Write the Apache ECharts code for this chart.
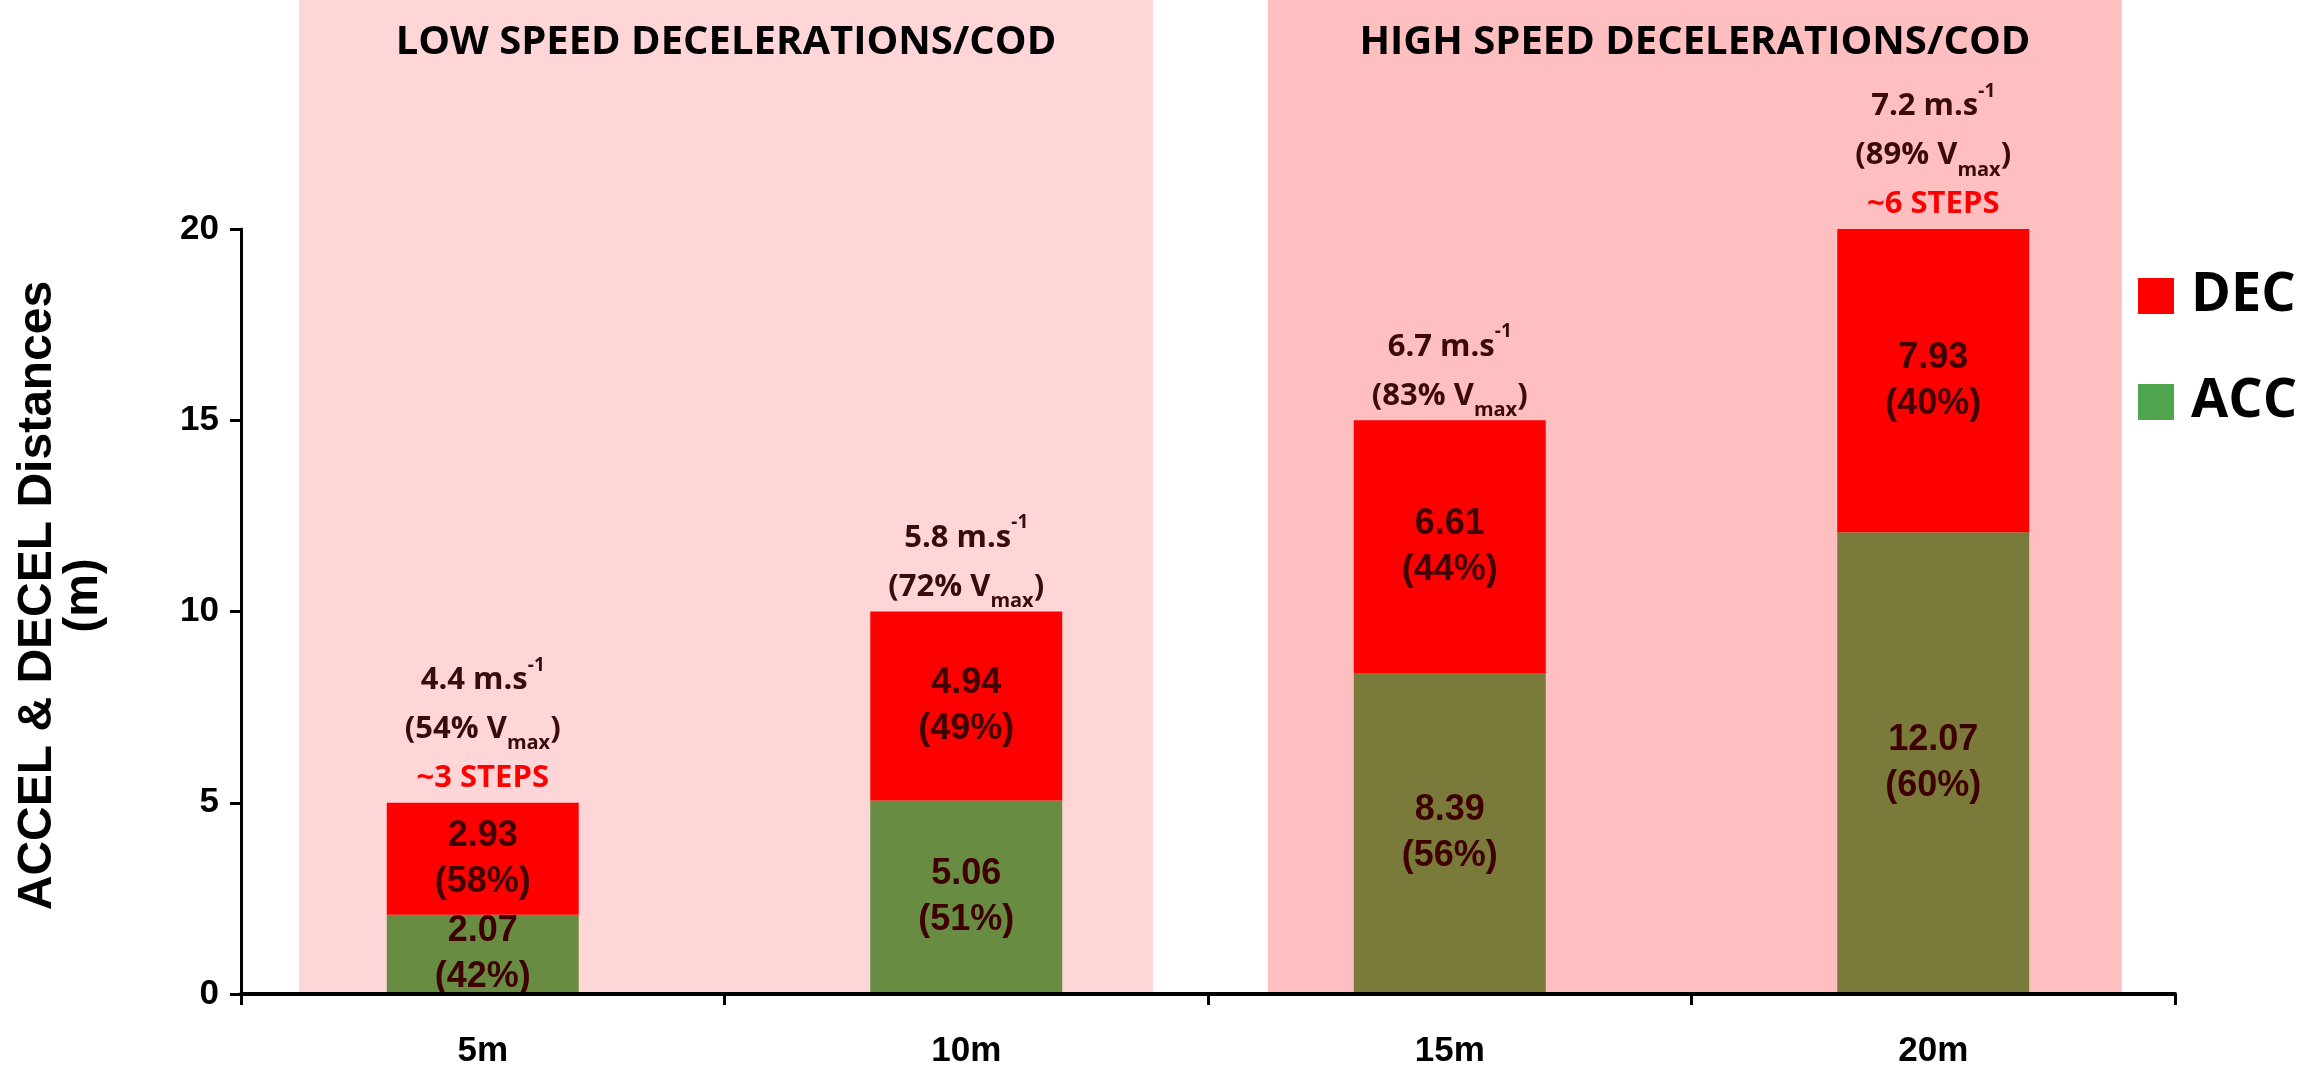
<!DOCTYPE html>
<html>
<head>
<meta charset="utf-8">
<title>ACCEL &amp; DECEL Distances</title>
<script src="https://cdn.jsdelivr.net/npm/echarts@6/dist/echarts.min.js"></script>
<style>
  html, body { margin: 0; padding: 0; background: #ffffff; }
  #chart { width: 2297px; height: 1069px; }
</style>
</head>
<body>
<div id="chart"></div>
<script>
// Sprint distances to the change of direction
const categories = ['5m', '10m', '15m', '20m'];

// Acceleration / deceleration distances (m) and their share of the total
const accDistance = [2.07, 5.06, 8.39, 12.07];
const decDistance = [2.93, 4.94, 6.61, 7.93];
const accShare = ['42%', '51%', '56%', '60%'];
const decShare = ['58%', '49%', '44%', '40%'];

// Entry speed before the deceleration, % of max velocity and step count
const entrySpeed = ['4.4', '5.8', '6.7', '7.2'];
const vmaxShare = ['54%', '72%', '83%', '89%'];
const stepCount = ['~3 STEPS', '', '', '~6 STEPS'];

// Y axis ticks
const yTicks = [0, 5, 10, 15, 20];

// Shaded groups, extents in category units along the x axis
const bandNames = ['LOW SPEED DECELERATIONS/COD', 'HIGH SPEED DECELERATIONS/COD'];
const bandFrom = [0.12, 2.124];
const bandTo = [1.886, 3.89];

// Styles
const ARIAL = '"Liberation Sans", Arial, sans-serif';
const SANS = '"Open Sans", "Noto Sans", sans-serif';
const BAND_COLORS = ['#FFD6D8', '#FFBEBF'];
const ACC_LEGEND = '#4FA64F';
const ACC_BAR = ['#688C42', '#7A7B3A'];
const DEC_COLOR = '#FF0000';
const LABEL_DARK = '#3F0000';
const NOTE_DARK = '#3A0B0B';

const GRID_LEFT = 241, GRID_RIGHT = 122, GRID_TOP = 229, GRID_BOTTOM = 72;

function bandOf(i) { return (i + 0.5) < bandTo[0] ? 0 : 1; }

const chart = echarts.init(document.getElementById('chart'), null, { renderer: 'canvas' });

const option = {
  backgroundColor: '#ffffff',
  animation: false,
  legend: {
    data: ['DEC', 'ACC'],
    orient: 'vertical',
    left: 2133,
    top: 261,
    icon: 'rect',
    itemWidth: 36,
    itemHeight: 36,
    itemGap: 46,
    selectedMode: false,
    textStyle: {
      fontFamily: SANS, fontWeight: 'bold', fontSize: 54, color: '#000',
      lineHeight: 60, padding: [0, 0, 0, 12]
    }
  },
  grid: [
    { left: GRID_LEFT, right: GRID_RIGHT, top: GRID_TOP, bottom: GRID_BOTTOM, containLabel: false },
    { left: GRID_LEFT, right: GRID_RIGHT, top: 0, bottom: GRID_BOTTOM + 2, containLabel: false }
  ],
  xAxis: [
    {
      type: 'category',
      gridIndex: 0,
      data: categories,
      z: 10,
      axisLine: { show: true, lineStyle: { color: '#000', width: 4 } },
      axisTick: { show: true, inside: false, length: 11, lineStyle: { color: '#000', width: 3 } },
      axisLabel: {
        margin: 40, fontFamily: ARIAL, fontWeight: 'bold', fontSize: 35, color: '#000'
      },
      splitLine: { show: false }
    },
    { type: 'value', gridIndex: 1, min: 0, max: categories.length, show: false }
  ],
  yAxis: [
    {
      type: 'value',
      gridIndex: 0,
      min: yTicks[0],
      max: yTicks[yTicks.length - 1],
      interval: yTicks[1] - yTicks[0],
      z: 10,
      name: 'ACCEL & DECEL Distances\n(m)',
      nameLocation: 'middle',
      nameGap: 134,
      nameRotate: 90,
      nameTextStyle: {
        fontFamily: ARIAL, fontWeight: 'bold', fontSize: 48, color: '#000', lineHeight: 46,
        padding: [0, 0, 0, 32]
      },
      axisLine: { show: true, lineStyle: { color: '#000', width: 3 } },
      axisTick: { show: true, inside: false, length: 11, lineStyle: { color: '#000', width: 3 } },
      axisLabel: {
        margin: 22, fontFamily: ARIAL, fontWeight: 'bold', fontSize: 35, color: '#000'
      },
      splitLine: { show: false }
    },
    { type: 'value', gridIndex: 1, min: 0, max: 1, show: false }
  ],
  series: [
    {
      // shaded speed groups with their headings
      name: 'groups',
      type: 'line',
      xAxisIndex: 1,
      yAxisIndex: 1,
      z: 0,
      silent: true,
      data: [[0, 0]],
      symbol: 'none',
      showSymbol: false,
      lineStyle: { width: 0, opacity: 0 },
      markArea: {
        silent: true,
        data: bandNames.map((n, k) => [
          {
            name: n,
            xAxis: bandFrom[k],
            itemStyle: { color: BAND_COLORS[k], opacity: 1 },
            label: {
              show: true, position: 'insideTop', distance: 20,
              fontFamily: SANS, fontWeight: 'bold', fontSize: 40, color: '#000', lineHeight: 46
            }
          },
          { xAxis: bandTo[k] }
        ])
      }
    },
    {
      name: 'ACC',
      type: 'bar',
      stack: 'dist',
      barWidth: '39.7%',
      z: 2,
      itemStyle: { color: ACC_LEGEND },
      data: accDistance.map((v, i) => ({ value: v, itemStyle: { color: ACC_BAR[bandOf(i)] } })),
      label: {
        show: true, position: 'inside',
        formatter: p => accDistance[p.dataIndex].toFixed(2) + '\n(' + accShare[p.dataIndex] + ')',
        fontFamily: ARIAL, fontWeight: 'bold', fontSize: 36, lineHeight: 46, color: LABEL_DARK
      }
    },
    {
      name: 'DEC',
      type: 'bar',
      stack: 'dist',
      barWidth: '39.7%',
      z: 2,
      itemStyle: { color: DEC_COLOR },
      data: decDistance,
      label: {
        show: true, position: 'inside',
        formatter: p => decDistance[p.dataIndex].toFixed(2) + '\n(' + decShare[p.dataIndex] + ')',
        fontFamily: ARIAL, fontWeight: 'bold', fontSize: 36, lineHeight: 46, color: LABEL_DARK
      }
    },
    {
      // zero-height cap on each stack that carries the speed notes
      name: 'notes',
      type: 'bar',
      stack: 'dist',
      barWidth: '39.7%',
      z: 3,
      silent: true,
      itemStyle: { color: 'transparent' },
      data: categories.map(() => 0),
      label: {
        show: true,
        position: 'top',
        distance: 0,
        formatter: p => {
          const i = p.dataIndex;
          let s = '{v|' + entrySpeed[i] + ' m.s}{sup|-1}\n{v|(' + vmaxShare[i] + ' V}{sub|max}{v|)}';
          if (stepCount[i]) s += '\n{st|' + stepCount[i] + '}';
          return s;
        },
        rich: {
          v: { fontFamily: SANS, fontWeight: 'bold', fontSize: 31, color: NOTE_DARK, lineHeight: 49 },
          sup: { fontFamily: SANS, fontWeight: 'bold', fontSize: 19, color: NOTE_DARK, lineHeight: 32, verticalAlign: 'top' },
          sub: { fontFamily: SANS, fontWeight: 'bold', fontSize: 20, color: NOTE_DARK, lineHeight: 20, verticalAlign: 'bottom' },
          st: { fontFamily: SANS, fontWeight: 'bold', fontSize: 31, color: '#FF0000', lineHeight: 49 }
        }
      }
    }
  ]
};

chart.setOption(option);
</script>
</body>
</html>
